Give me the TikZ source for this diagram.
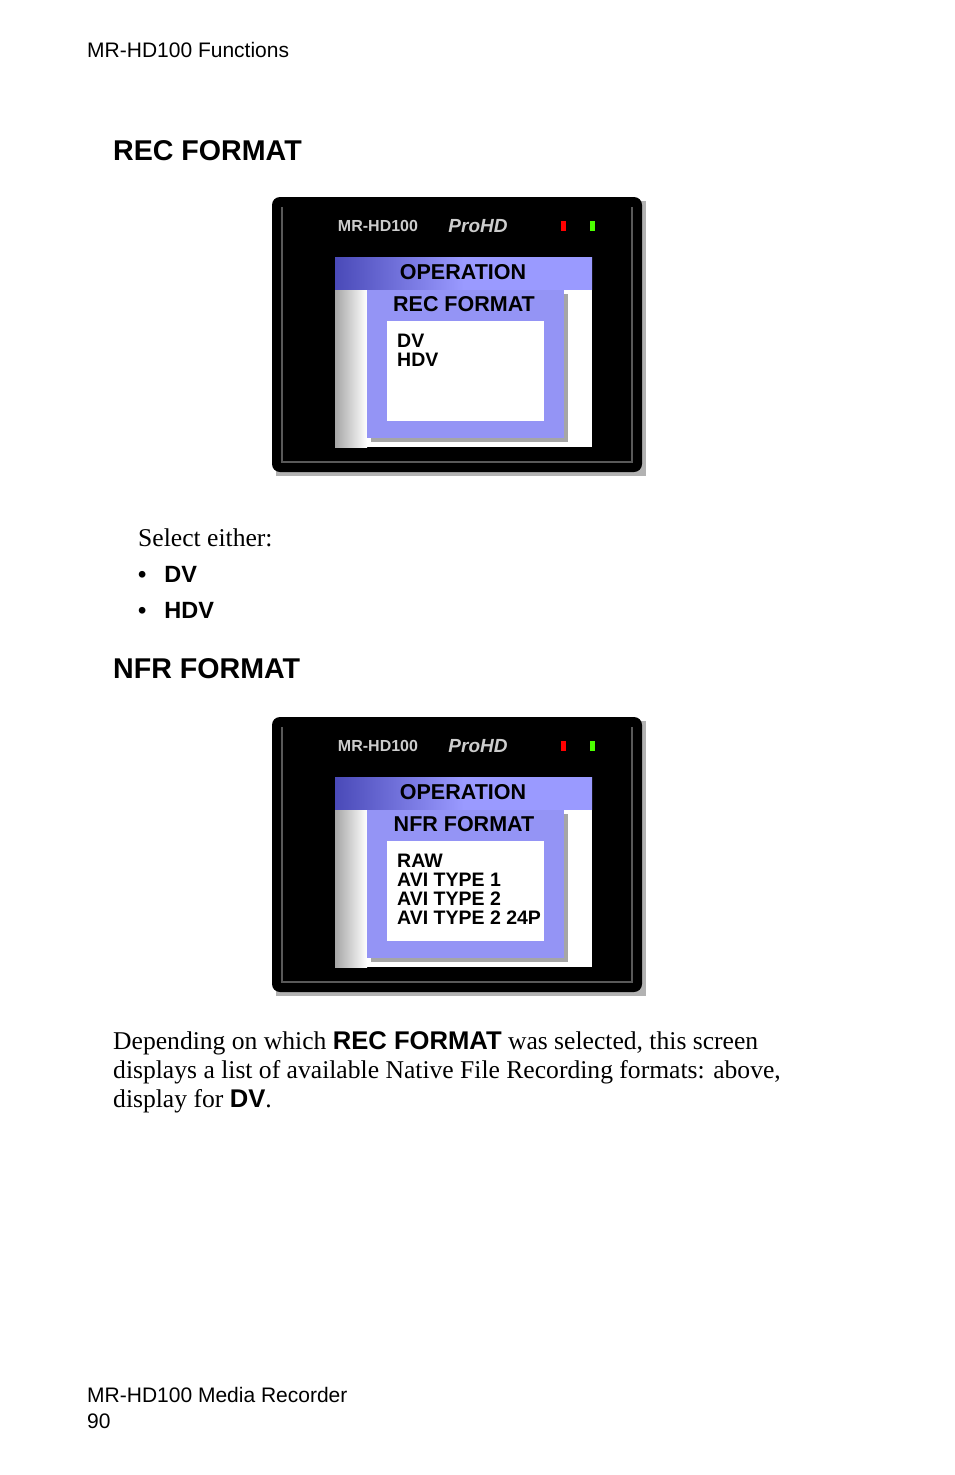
\documentclass[tikz,border=0pt]{standalone}
\usepackage{fontspec}
\setmainfont{Liberation Serif}
\setsansfont{Liberation Sans}
\usetikzlibrary{positioning}
\definecolor{popblue}{HTML}{9494F5}
\definecolor{barblue}{HTML}{9A9AFF}
\definecolor{bardark}{HTML}{4A4AB8}
\tikzset{
  lbl/.style={font=\sffamily\fontsize{21}{22}\selectfont, anchor=west, inner sep=0pt},
  head/.style={font=\sffamily\bfseries\fontsize{28.6}{30}\selectfont, anchor=west, inner sep=0pt},
  body/.style={font=\fontsize{25.6}{29}\selectfont, anchor=west, inner sep=0pt, align=left},
  scr/.style={font=\sffamily\bfseries\fontsize{21.5}{19}\selectfont, inner sep=0pt},
}
% one device screen, shifted down by #1
\newcommand{\devscreen}[4]{%
  \begin{scope}[yshift=-#1]
    % body
    \fill[gray!60] (276,201) rectangle (646,476);
    \fill[black, rounded corners=8] (272,197) rectangle (642,472);
    \draw[gray!70!black, line width=1.5] (282,207) -- (282,462) -- (632,462) -- (632,207);
    \node[font=\sffamily\bfseries\fontsize{16}{16}\selectfont, text=gray!40] (#2brand) at (378,226) {MR-HD100};
    \node[font=\sffamily\bfseries\itshape\fontsize{19}{19}\selectfont, text=gray!40] (#2pro) at (478,226) {ProHD};
    \fill[red] (561,221) rectangle (566,231);
    \fill[green!70!yellow] (590,221) rectangle (595,231);
    % display
    \fill[white] (335,257) rectangle (592,447);
    \shade[left color=gray!70, right color=white] (335,289) rectangle (367,447);
    \shade[left color=bardark, right color=barblue, middle color=barblue] (335,257) rectangle (592,289);
    \node[scr] (#2bar) at (463,272) {OPERATION};
    % popup
    \fill[gray!70] (371,294) rectangle (568,442);
    \fill[popblue] (367,290) rectangle (564,438);
    \fill[white] (387,321) rectangle (544,421);
    \node[scr] (#2title) at (464,304) {#3};
    \node[scr, anchor=north west, align=left, font=\sffamily\bfseries\fontsize{19.5}{19}\selectfont] (#2list) at (397,334) {#4};
  \end{scope}}

\begin{document}
\begin{tikzpicture}[x=1pt,y=-1pt]
  \useasboundingbox (0,0) rectangle (954,1475);
  \node[lbl] (top) at (87,50) {MR-HD100 Functions};
  \node[head] (rechead) at (113,151) {REC FORMAT};

  \devscreen{0}{a}{REC FORMAT}{DV\\HDV}

  \node[body] (sel) at (138,538) {Select either:};
  \node[body, font=\sffamily\bfseries\fontsize{23.5}{23}\selectfont] (b1) at (138,574) {•\hspace{18pt}DV};
  \node[body, font=\sffamily\bfseries\fontsize{23.5}{23}\selectfont] (b2) at (138,610) {•\hspace{18pt}HDV};

  \node[head] (nfrhead) at (113,669) {NFR FORMAT};

  \devscreen{520}{b}{NFR FORMAT}{RAW\\AVI TYPE 1\\AVI TYPE 2\\AVI TYPE 2 24P}

  \node[body, anchor=north west] (desc) at (113,1031) {Depending on which {\sffamily\bfseries REC FORMAT} was selected, this screen\\
    displays a list of available Native File Recording formats: above,\\
    display for {\sffamily\bfseries DV}.};

  \node[lbl] (foot1) at (87,1395) {MR-HD100 Media Recorder};
  \node[lbl] (foot2) at (87,1421) {90};
\end{tikzpicture}
\end{document}
